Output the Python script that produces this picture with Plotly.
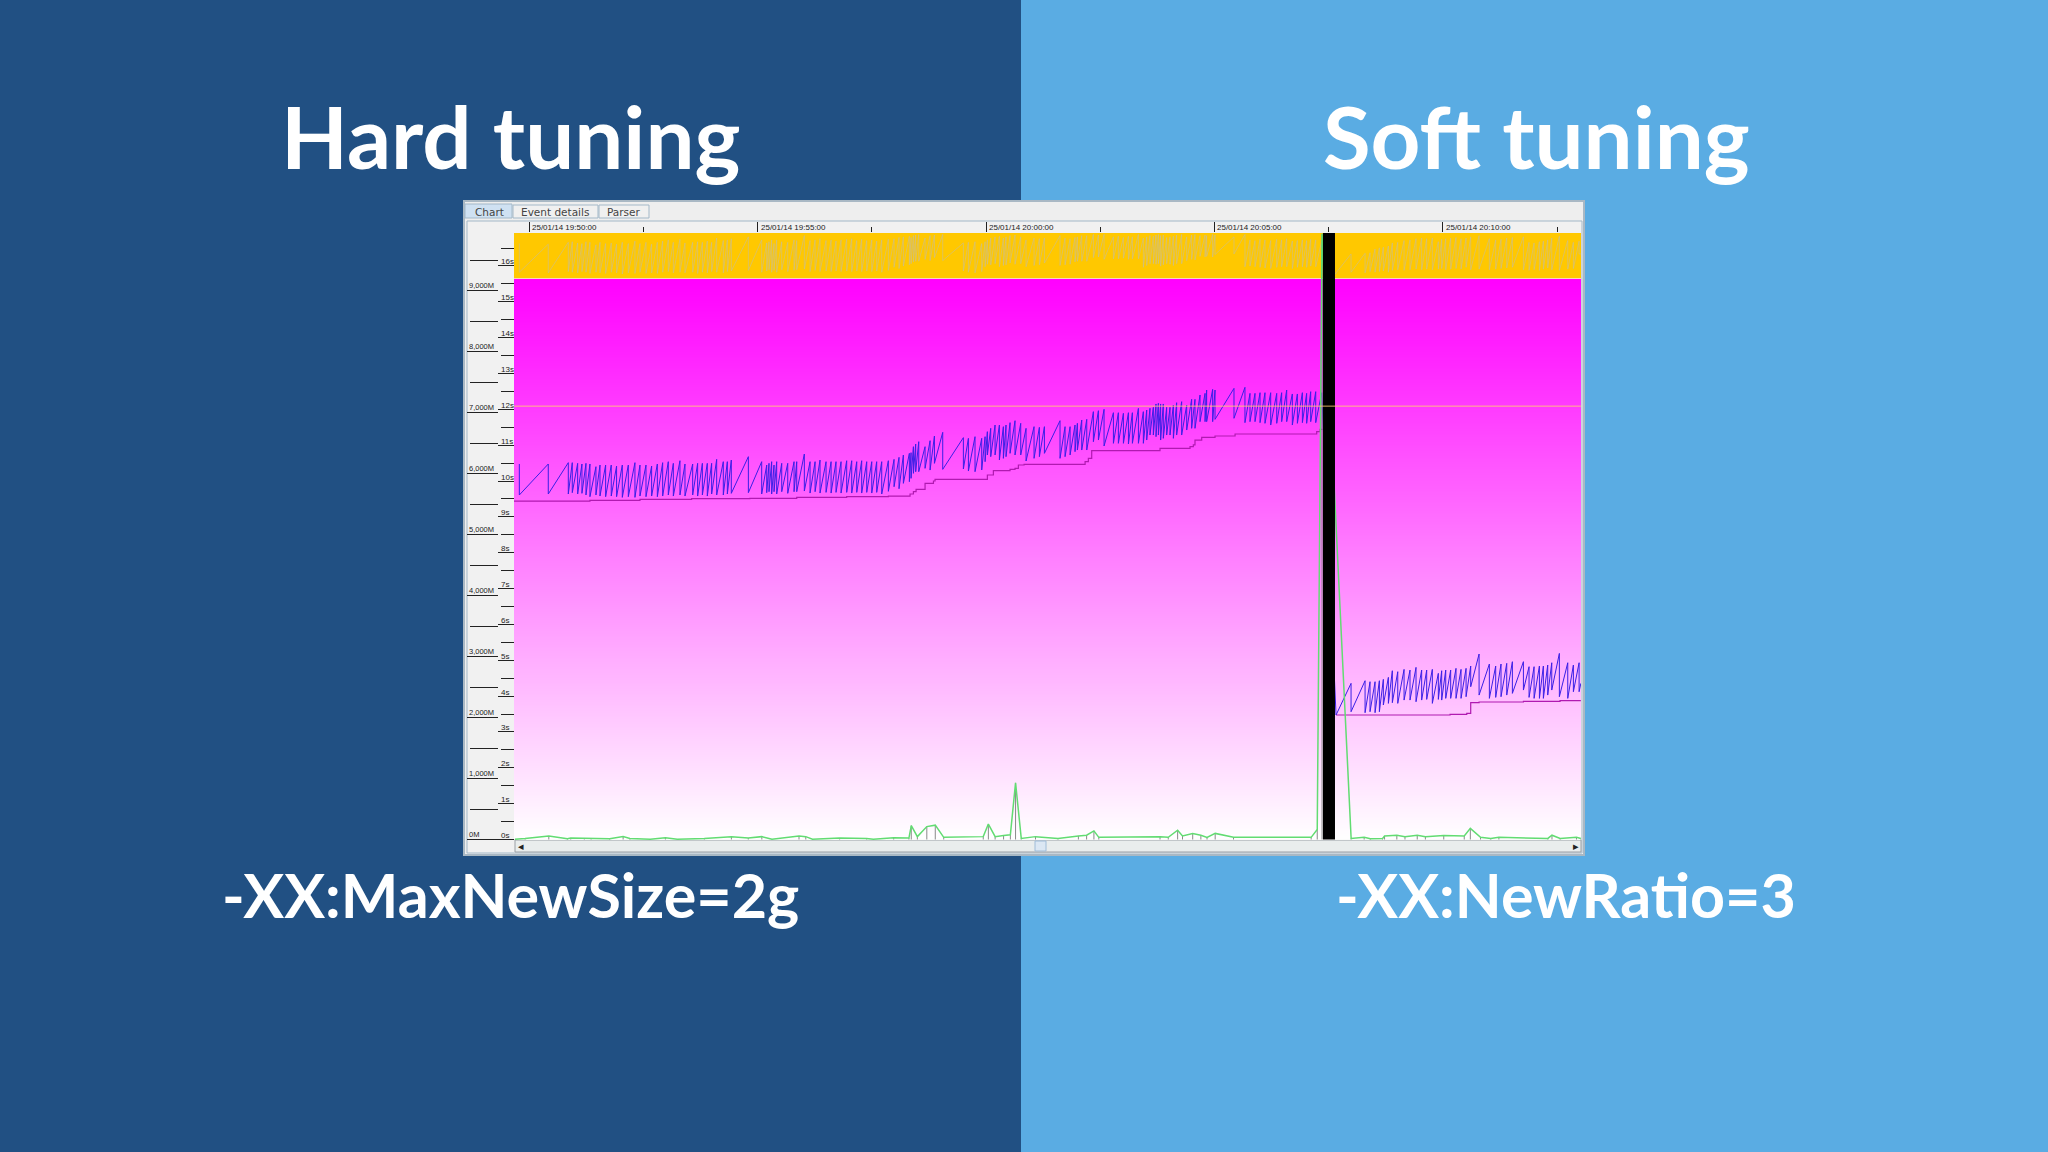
import pandas as pd
import plotly.graph_objects as go

# Slide text
title_left = 'Hard tuning'
title_right = 'Soft tuning'
flag_left = '-XX:MaxNewSize=2g'
flag_right = '-XX:NewRatio=3'
tab_names = ['Chart', 'Event details', 'Parser']

# Axis labels
heap_ticks = [0, 1000, 2000, 3000, 4000, 5000, 6000, 7000, 8000, 9000]
heap_labels = ['0M', '1,000M', '2,000M', '3,000M', '4,000M', '5,000M', '6,000M', '7,000M', '8,000M', '9,000M']
pause_ticks = list(range(0, 17))
pause_labels = ['0s', '1s', '2s', '3s', '4s', '5s', '6s', '7s', '8s', '9s', '10s', '11s', '12s', '13s', '14s', '15s', '16s']
time_ticks = [0, 300, 600, 900, 1200]
time_labels = ['25/01/14 19:50:00', '25/01/14 19:55:00', '25/01/14 20:00:00', '25/01/14 20:05:00', '25/01/14 20:10:00']

# Heap used before the big collection (seconds after 19:50:00, MB at each peak and after each drop)
saw_seconds = [
    -12.7, 25.3, 51.6, 56.8, 63.9, 69.5, 74.8, 80, 87.9, 93.2, 100.6, 108, 115, 122.5, 130.4, 139.1, 145.7, 153.6,
    161, 168.5, 175.5, 182.9, 189.5, 198.2, 204.8, 214.9, 221.4, 227.6, 234.1, 239.8, 246.4, 255.1, 260.4, 265.6, 288,
    305.5, 312.1, 315.1, 318.6, 321.7, 325.2, 331.8, 339.7, 348, 351.5, 361.5, 369, 375.6, 382.1, 390, 396.6, 403.1,
    409.7, 417.1, 423.7, 430.3, 436.8, 443.4, 450, 456.5, 463.1, 471.8, 479.3, 485.8, 491.5, 499.4, 501.6, 504.7,
    507.7, 511.7, 520, 526.6, 532.3, 543.2,
    570.3, 576.9, 585.6, 594.4, 598.8, 601.8, 606.2, 611.9, 617.6, 622.8, 626.3, 631.6, 638.1, 645.6, 652.6, 663.1,
    670.1, 676.7, 697.2, 703.8, 710.4, 716.9, 720, 725.7, 732.3, 741, 747.6, 755, 767.3, 773.8, 780.4, 787, 792.2, 800.1,
    806.6, 811, 815.3, 819.7, 823.2, 826.3, 829.3, 832.8, 837.2, 841.6, 846, 850.3, 856.9, 863.5, 870, 874.4, 881,
    887.6, 889.7, 897.6, 900.7, 925.6, 940, 946.6, 953.2, 959.8, 966.3, 973.8, 981.7, 988.2, 994.8, 1002.2, 1008.8,
    1015.4, 1021, 1026.3, 1032.9, 1040.8,
]
saw_peak = [
    6156, 6156, 6178, 6178, 6167, 6156, 6167, 6156, 6112, 6139, 6139, 6139, 6123, 6139, 6139, 6178, 6139, 6139,
    6123, 6156, 6178, 6194, 6167, 6210, 6156, 6156, 6167, 6167, 6167, 6167, 6232, 6194, 6194, 6221, 6276,
    6194, 6139, 6167, 6194, 6139, 6194, 6167, 6167, 6194, 6194, 6320, 6194, 6194, 6221, 6194, 6194, 6194,
    6194, 6210, 6210, 6194, 6210, 6194, 6194, 6194, 6194, 6210, 6232, 6265, 6303, 6331, 6342, 6440,
    6484, 6522, 6440, 6538, 6615, 6675,
    6588, 6577, 6604, 6577, 6604, 6686, 6741, 6795, 6795, 6768, 6795, 6834, 6866, 6823, 6741, 6768,
    6757, 6768, 6866, 6768, 6768, 6795, 6823, 6877, 6888, 7014, 7030, 7052, 6997, 6997, 6987, 6997, 6997, 7068,
    7014, 7041, 7069, 7085, 7140, 7151, 7140, 7140, 7085, 7085, 7123, 7161, 7178, 7123, 7216, 7216, 7287,
    7314, 7369, 7380, 7369, 7396, 7413, 7314, 7314, 7325, 7325, 7325, 7314, 7325, 7369, 7304, 7304,
    7325, 7314, 7342, 7342, 7325,
]
saw_trough = [
    5648, 5664, 5664, 5686, 5664, 5675, 5648, 5620, 5648, 5631, 5620, 5631, 5620, 5609, 5620, 5609, 5631, 5620,
    5631, 5620, 5631, 5648, 5631, 5648, 5631, 5648, 5631, 5648, 5631, 5664, 5648, 5648, 5664, 5675, 5686,
    5664, 5686, 5702, 5664, 5702, 5664, 5702, 5675, 5702, 5702, 5713, 5680, 5702, 5680, 5691, 5680, 5691,
    5680, 5691, 5680, 5691, 5680, 5691, 5680, 5691, 5664, 5708, 5784, 5751, 5839, 5866, 5921, 6003,
    6030, 6030, 6085, 6057, 6167, 6068,
    6074, 6041, 6030, 6058, 6194, 6304, 6276, 6304, 6222, 6249, 6276, 6331, 6304, 6304, 6205, 6249,
    6276, 6331, 6249, 6276, 6304, 6358, 6385, 6385, 6385, 6522, 6549, 6451, 6495, 6495, 6495, 6484, 6495, 6495,
    6495, 6549, 6631, 6631, 6604, 6631, 6549, 6577, 6631, 6631, 6577, 6631, 6631, 6713, 6741, 6741, 6850,
    6850, 6850, 6850, 6888, 6905, 6834, 6850, 6850, 6834, 6823, 6795, 6823, 6850, 6850, 6795, 6823,
    6834, 6823, 6850, 6834,
]

# Heap used after the big collection
saw2_seconds = [
    1059.6, 1079.3, 1097.7, 1104.2, 1110.8, 1116.5, 1121.7, 1128.3, 1133.5, 1140.6, 1148.9, 1156.7, 1164.6, 1172,
    1178.6, 1186, 1193.9, 1198.3, 1203.6, 1210.1, 1217.1, 1223.7, 1230.3, 1236.4, 1247.4, 1260.9, 1269.2, 1276.2,
    1283.7, 1291.1, 1305.6, 1313, 1319.6, 1326.6, 1331.8, 1337.5, 1342.8, 1352.8, 1363.8, 1371.2, 1378.7, 1381,
]
saw2_peak = [
    2041, 2560, 2603, 2587, 2587, 2603, 2625, 2658, 2767, 2751, 2789, 2778, 2822, 2778,
    2778, 2789, 2724, 2767, 2778, 2778, 2806, 2789, 2806, 2844, 3041, 2877, 2844, 2877,
    2888, 2915, 2915, 2833, 2833, 2844, 2844, 2860, 2898, 3051, 2898, 2860, 2898, 2560,
]
saw2_trough = [
    2041, 2095, 2079, 2095, 2079, 2095, 2205, 2232, 2243, 2232, 2286, 2286, 2259, 2286,
    2297, 2232, 2297, 2286, 2314, 2314, 2314, 2314, 2341, 2505, 2368, 2314, 2330, 2341,
    2368, 2396, 2450, 2330, 2314, 2314, 2314, 2368, 2450, 2341, 2314, 2423, 2423, 2560,
]

# Heap after collection, stepped line
floor_seconds = [
    -19.7, 80, 145.7, 213.5, 290, 351.5, 417.1, 471.8, 500.3, 504.7, 508.2, 520, 531, 533.1, 601.8, 609.7, 631.6,
    638.1, 642.5, 650, 730.1, 734.4, 738.8, 828.5, 867.9, 872.2, 874.4, 883.2, 900.7, 927, 1034.2, 1038.6, 1042,
]
floor_heap = [
    5549, 5560, 5577, 5588, 5593, 5609, 5620, 5631, 5664, 5702, 5740, 5839, 5877, 5904, 5976, 6047, 6068,
    6085, 6140, 6151, 6194, 6249, 6375, 6413, 6440, 6468, 6549, 6593, 6615, 6648, 6686, 6724, 6724,
]
floor2_seconds = [1059.6, 1209.3, 1231.2, 1236.4, 1247.4, 1305.6, 1353.7, 1381]
floor2_heap = [2041, 2052, 2068, 2243, 2254, 2265, 2276, 2276]

# Pause times
pause_seconds = [
    -18.4, -5.1, 26, 50.4, 54.8, 72.6, 81.5, 105.9, 123.6, 132.5, 159.2, 179.1, 194.7, 230.2, 265.7, 287.9, 305.7,
    319, 354.5, 363.4, 372.2, 407.8, 443.3, 452.1, 478.8, 498.8, 501.9, 509.9, 522.3, 533.4, 544.5, 596.4, 603.1,
    612, 623.1, 632, 638.8, 646.3, 665, 694.5, 721.3, 732.1, 741.7, 748.1, 828.5, 839.3, 851.6, 858, 871.4, 882.1,
    890.2, 900.9, 925, 1026.9, 1034.9, 1041.2, 1079.4, 1096.5, 1104.6, 1120.7, 1123.3, 1139.4, 1150.1, 1166.2,
    1176.9, 1201, 1227.9, 1235.9, 1249.3, 1262.7, 1273.4, 1337.7, 1343.1, 1353.8, 1375.3, 1381,
]
pause_values = [
    0.01, 0.03, 0.1, 0.02, 0.04, 0.04, 0.02, 0.02, 0.08, 0.03, 0.01, 0.05, 0.01, 0.03, 0.08, 0.04, 0.08,
    0.01, 0.1, 0.08, 0.01, 0.04, 0.03, 0.01, 0.05, 0.04, 0.39, 0.08, 0.36, 0.4, 0.06, 0.08, 0.43,
    0.08, 0.11, 0.13, 1.58, 0.03, 0.08, 0.03, 0.1, 0.12, 0.24, 0.06, 0.08, 0.06, 0.26, 0.1, 0.17, 0.12,
    0.06, 0.17, 0.06, 0.06, 0.28, 16.9, 0.03, 0.06, 0.02, 0.03, 0.1, 0.12, 0.08, 0.12,
    0.08, 0.11, 0.1, 0.31, 0.06, 0.03, 0.06, 0.03, 0.12, 0.03, 0.06, 0.03,
]

# Faint sawtooth in the orange band, same collections as the heap line
band_peak = [
    9770, 9760, 9790, 9800, 9780, 9770, 9800, 9790, 9750, 9790, 9770, 9780, 9760, 9790, 9770, 9810, 9770, 9790,
    9760, 9790, 9810, 9830, 9790, 9840, 9780, 9790, 9800, 9790, 9810, 9790, 9860, 9820, 9830, 9850, 9880,
    9830, 9780, 9800, 9830, 9770, 9830, 9800, 9790, 9830, 9820, 9900, 9820, 9830, 9850, 9820, 9830, 9810,
    9830, 9840, 9850, 9820, 9840, 9820, 9830, 9810, 9830, 9840, 9850, 9870, 9880, 9890, 9870, 9900,
    9910, 9920, 9860, 9900, 9910, 9920,
    9780, 9790, 9800, 9770, 9800, 9830, 9860, 9880, 9890, 9860, 9880, 9900, 9910, 9880, 9830, 9860,
    9850, 9860, 9900, 9860, 9850, 9870, 9880, 9900, 9900, 9920, 9910, 9920, 9880, 9890, 9870, 9890, 9880, 9920,
    9860, 9880, 9900, 9890, 9910, 9920, 9900, 9910, 9870, 9880, 9890, 9910, 9920, 9880, 9910, 9920, 9900,
    9910, 9900, 9920, 9910, 9880, 9920, 9830, 9820, 9840, 9830, 9820, 9840, 9830, 9850, 9810, 9820,
    9830, 9820, 9840, 9830, 9810,
]
band_trough = [
    9300, 9290, 9310, 9300, 9290, 9310, 9300, 9280, 9300, 9290, 9280, 9300, 9290, 9270, 9290, 9280, 9300, 9280,
    9290, 9280, 9300, 9310, 9290, 9300, 9290, 9300, 9280, 9300, 9290, 9310, 9300, 9290, 9310, 9320, 9330,
    9300, 9320, 9340, 9300, 9330, 9300, 9340, 9310, 9330, 9340, 9350, 9310, 9330, 9310, 9320, 9310, 9320,
    9310, 9320, 9310, 9320, 9310, 9320, 9310, 9320, 9300, 9330, 9380, 9360, 9400, 9420, 9440, 9470,
    9480, 9480, 9510, 9490, 9540, 9490,
    9320, 9300, 9290, 9310, 9390, 9430, 9420, 9440, 9390, 9410, 9420, 9450, 9430, 9440, 9390, 9410,
    9420, 9450, 9410, 9420, 9430, 9470, 9480, 9480, 9480, 9540, 9550, 9510, 9520, 9520, 9530, 9510, 9520, 9520,
    9380, 9410, 9440, 9440, 9430, 9440, 9400, 9420, 9440, 9430, 9410, 9440, 9440, 9490, 9510, 9500, 9560,
    9550, 9560, 9550, 9590, 9600, 9390, 9400, 9390, 9380, 9370, 9360, 9380, 9390, 9390, 9360, 9380,
    9390, 9380, 9400, 9390,
]
band2_peak = [
    9280, 9600, 9610, 9620, 9680, 9700, 9710, 9730, 9780, 9790, 9820, 9830, 9850, 9860,
    9850, 9860, 9800, 9840, 9850, 9860, 9870, 9850, 9860, 9880, 9900, 9850, 9830, 9840,
    9860, 9870, 9880, 9790, 9780, 9800, 9810, 9830, 9860, 9890, 9820, 9790, 9810, 9600,
]
band2_trough = [
    9300, 9290, 9300, 9290, 9310, 9300, 9310, 9320, 9300, 9330, 9340, 9330, 9340, 9350,
    9340, 9350, 9340, 9350, 9360, 9340, 9350, 9360, 9350, 9380, 9340, 9350, 9340, 9350,
    9360, 9370, 9380, 9340, 9330, 9340, 9330, 9350, 9370, 9340, 9330, 9350, 9360, 9600,
]

# Other chart items
threshold_pause = 12.09
gc_bar_start = 1042.4
gc_bar_end = 1058.2
band_bottom_heap = 9200

start_time = pd.Timestamp('2014-01-25 19:50:00')


def to_time(seconds):
    return [start_time + pd.Timedelta(seconds=float(s)) for s in seconds]


def saw_path(seconds, peaks, troughs):
    xs, ys = [], []
    for i, (t, p) in enumerate(zip(seconds, peaks)):
        xs.append(t)
        ys.append(p)
        if i < len(troughs):
            xs.append(t)
            ys.append(troughs[i])
    return xs, ys


W, H = 2048, 1152


def px(x):
    return x / W


def py(y):
    return 1 - y / H


x_left = to_time([-19.7])[0]
x_right = to_time([1381.2])[0]

fig = go.Figure()

# Background gradient of the chart
levels = list(range(0, band_bottom_heap, 20))
fig.add_trace(go.Heatmap(
    x=[x_left, x_right],
    y=levels,
    z=[[v] for v in levels],
    zmin=0,
    zmax=band_bottom_heap,
    colorscale=[[0, '#ffffff'], [1, '#ff00ff']],
    showscale=False,
    hoverinfo='skip',
))

# Orange band
fig.add_trace(go.Scatter(
    x=[x_left, x_left, x_right, x_right],
    y=[band_bottom_heap, 9943, 9943, band_bottom_heap],
    fill='toself',
    fillcolor='#ffc800',
    mode='none',
))
bx, by = saw_path(saw_seconds + saw2_seconds, band_peak + band2_peak, band_trough + band2_trough)
fig.add_trace(go.Scatter(x=to_time(bx), y=by, mode='lines', line=dict(color='rgba(200,190,150,0.6)', width=1)))

# Stepped line and heap sawtooth
fig.add_trace(go.Scatter(x=to_time(floor_seconds), y=floor_heap, mode='lines',
                         line=dict(color='#b01ab0', width=1.2, shape='hv')))
fig.add_trace(go.Scatter(x=to_time(floor2_seconds), y=floor2_heap, mode='lines',
                         line=dict(color='#b01ab0', width=1.2, shape='hv')))
hx, hy = saw_path(saw_seconds, saw_peak, saw_trough)
hx2, hy2 = saw_path(saw2_seconds, saw2_peak, saw2_trough)
fig.add_trace(go.Scatter(x=to_time(hx + hx2), y=hy + hy2, mode='lines', line=dict(color='#3a1fe6', width=1)))

# Pause line, then the full GC bar on top of it
fig.add_trace(go.Scatter(
    x=to_time(pause_seconds), y=pause_values, yaxis='y2', mode='lines',
    line=dict(color='#62dc72', width=1.5),
    error_y=dict(type='data', symmetric=False, array=[0] * len(pause_values), arrayminus=pause_values,
                 color='#8a8a8a', thickness=1, width=0),
))
fig.add_trace(go.Scatter(
    x=to_time([gc_bar_start, gc_bar_start, gc_bar_end, gc_bar_end]),
    y=[0, 17, 17, 0], yaxis='y2',
    fill='toself', fillcolor='#000000', mode='none',
))
fig.add_trace(go.Scatter(x=[x_left, x_right], y=[threshold_pause, threshold_pause], yaxis='y2', mode='lines',
                         line=dict(color='rgba(255,205,110,0.85)', width=1)))

# Slide panels and the application window
panel_line = '#a3b8c8'
shapes = [
    dict(type='rect', xref='paper', yref='paper', x0=0, x1=px(1021), y0=0, y1=1,
         fillcolor='#215083', line_width=0, layer='below'),
    dict(type='rect', xref='paper', yref='paper', x0=px(464), x1=px(1584), y0=py(855), y1=py(201),
         fillcolor='#eeeeee', line=dict(color='#a9b8c4', width=2), layer='below'),
    dict(type='rect', xref='paper', yref='paper', x0=px(467), x1=px(1582), y0=py(853), y1=py(221),
         fillcolor='#f1f1f1', line=dict(color=panel_line, width=1), layer='below'),
    dict(type='rect', xref='paper', yref='paper', x0=px(515), x1=px(1581), y0=py(852), y1=py(840),
         fillcolor='#e9eded', line=dict(color='#9a9fa5', width=1), layer='below'),
    dict(type='rect', xref='paper', yref='paper', x0=px(1035), x1=px(1046), y0=py(851), y1=py(841),
         fillcolor='#dbe7f3', line=dict(color='#9fbcd8', width=1), layer='below'),
    dict(type='rect', xref='paper', yref='paper', x0=px(465), x1=px(512), y0=py(218), y1=py(204),
         fillcolor='#cfe1f2', line=dict(color=panel_line, width=1), layer='below'),
    dict(type='rect', xref='paper', yref='paper', x0=px(513), x1=px(598), y0=py(218), y1=py(205),
         fillcolor='#f0f0f0', line=dict(color=panel_line, width=1), layer='below'),
    dict(type='rect', xref='paper', yref='paper', x0=px(599), x1=px(649), y0=py(218), y1=py(205),
         fillcolor='#f0f0f0', line=dict(color=panel_line, width=1), layer='below'),
]

annotations = []


def add_text(text, x, y, size, color='#ffffff', family='Lato', weight=None, anchor='center', **kw):
    font = dict(family=family, size=size, color=color)
    if weight:
        font['weight'] = weight
    annotations.append(dict(text=text, x=x, y=y, xanchor=anchor, yanchor='middle', showarrow=False, font=font,
                            borderpad=0, **kw))


add_text(title_left, px(510), py(135), 87, weight=700, xref='paper', yref='paper')
add_text(title_right, px(1536), py(135), 87, weight=700, xref='paper', yref='paper')
add_text(flag_left, px(510), py(894), 61, weight=700, xref='paper', yref='paper')
add_text(flag_right, px(1566), py(894), 61, weight=700, xref='paper', yref='paper')

for name, cx in zip(tab_names, [489, 555, 624]):
    add_text(name, px(cx), py(211.5), 10.5, color='#444444', family='DejaVu Sans', xref='paper', yref='paper')

for value, label in zip(heap_ticks, heap_labels):
    add_text(label, px(468), value, 7.5, color='#222222', family='Liberation Sans', anchor='left',
             xref='paper', yref='y', yshift=5)
for value, label in zip(pause_ticks, pause_labels):
    add_text(label, px(500), value, 8, color='#222222', family='Liberation Sans', anchor='left',
             xref='paper', yref='y2', yshift=4)
for t, label in zip(to_time(time_ticks), time_labels):
    add_text(label, t, py(228), 8, color='#222222', family='Liberation Sans', anchor='left',
             xref='x', yref='paper', xshift=2)
add_text('◂', px(521), py(846), 11, color='#222222', family='DejaVu Sans', xref='paper', yref='paper')
add_text('▸', px(1576), py(846), 11, color='#222222', family='DejaVu Sans', xref='paper', yref='paper')

fig.update_layout(
    width=W,
    height=H,
    margin=dict(l=0, r=0, t=0, b=0),
    autosize=False,
    paper_bgcolor='#5aace3',
    plot_bgcolor='rgba(0,0,0,0)',
    showlegend=False,
    shapes=shapes,
    annotations=annotations,
    xaxis=dict(
        domain=[px(514), px(1581)],
        type='date',
        range=[x_left, x_right],
        side='top',
        anchor='y',
        showgrid=False,
        zeroline=False,
        showticklabels=False,
        ticks='outside',
        ticklen=10,
        tickcolor='#222222',
        tick0=start_time,
        dtick=300000,
        minor=dict(ticks='outside', ticklen=5, tickcolor='#222222', dtick=150000, tick0=start_time, showgrid=False),
    ),
    yaxis=dict(
        domain=[py(840), py(233)],
        range=[-8, 9943],
        anchor='free',
        position=px(498),
        showgrid=False,
        zeroline=False,
        showticklabels=False,
        ticks='outside',
        ticklen=31,
        tickcolor='#222222',
        tickvals=heap_ticks,
        minor=dict(ticks='outside', ticklen=28, tickcolor='#222222', dtick=500, showgrid=False),
    ),
    yaxis2=dict(
        domain=[py(840), py(233)],
        range=[-0.014, 16.92],
        overlaying='y',
        anchor='free',
        position=px(514),
        side='left',
        showgrid=False,
        zeroline=False,
        showticklabels=False,
        ticks='outside',
        ticklen=16,
        tickcolor='#222222',
        tickvals=pause_ticks,
        minor=dict(ticks='outside', ticklen=13, tickcolor='#222222', dtick=0.5, showgrid=False),
    ),
)

# The page's default body margin would push the slide off its corner
fig.write_html("out.html", config={'displayModeBar': False}, post_script="document.body.style.margin = '0';")
